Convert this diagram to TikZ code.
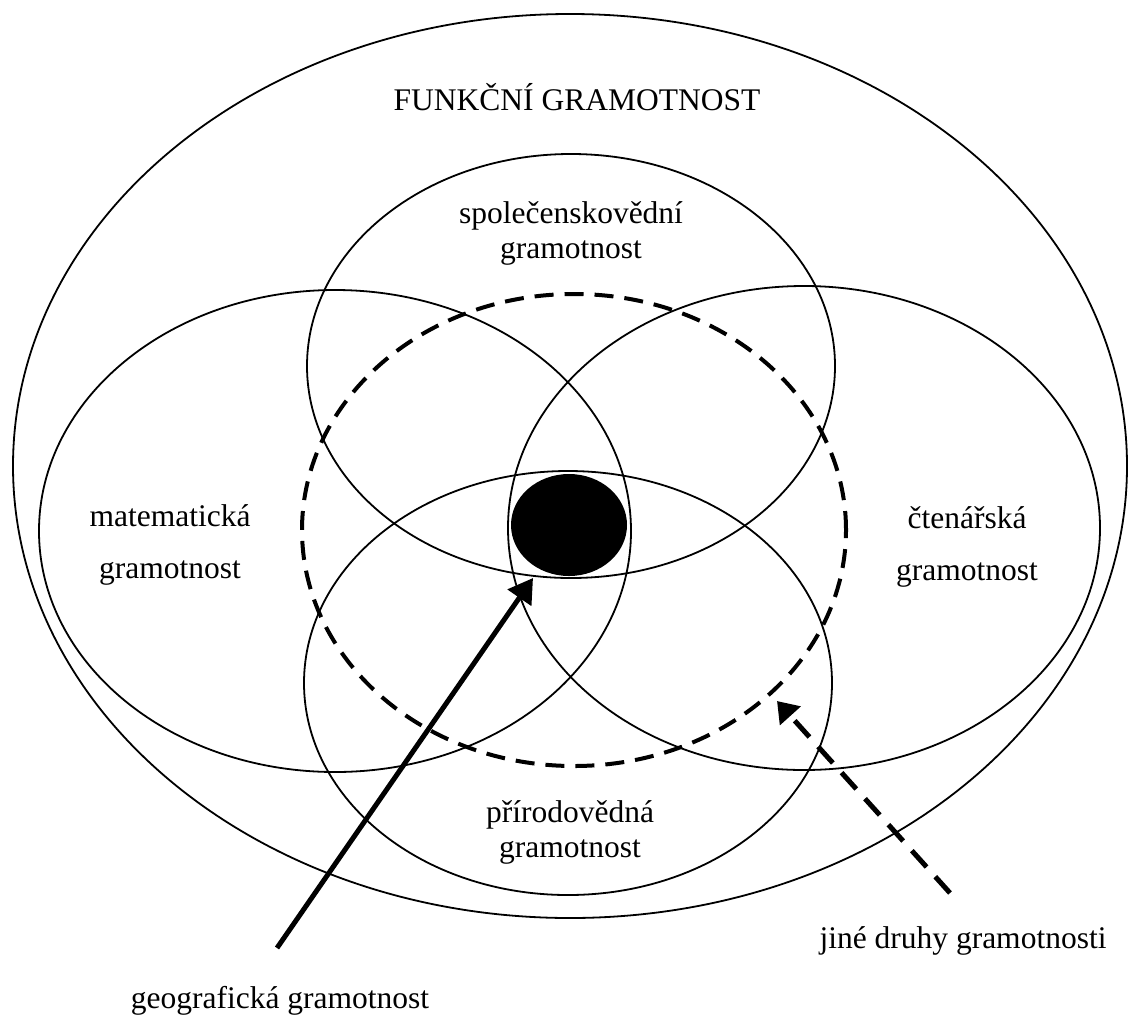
\documentclass[tikz,border=0pt]{standalone}
\usepackage{fontspec}
\setmainfont{Liberation Serif}
\usetikzlibrary{arrows.meta}

\tikzset{
  setline/.style={line width=1.8pt},
  otherline/.style={line width=4pt,dash pattern=on 19pt off 11pt},
  gtext/.style={font=\fontsize{31.5}{35}\selectfont,align=center,inner sep=0pt},
  widetext/.style={gtext,font=\fontsize{31.5}{52}\selectfont},
}

\begin{document}
\begin{tikzpicture}[x=1pt,y=-1pt,line join=round]
  \useasboundingbox (0,0) rectangle (1131,1015);
  % the sets
  \draw[setline] (570,466) ellipse [x radius=557pt,y radius=452pt];
  \draw[setline] (571,366) ellipse [x radius=264pt,y radius=212pt];
  \draw[setline] (335,531) ellipse [x radius=296pt,y radius=241pt];
  \draw[setline] (804,528) ellipse [x radius=296pt,y radius=242pt];
  \draw[setline] (568,683) ellipse [x radius=264pt,y radius=212pt];
  \draw[otherline] (574,530) ellipse [x radius=272pt,y radius=236pt];
  \fill (569,525) ellipse [x radius=58pt,y radius=51pt];
  % labels
  \node[gtext,anchor=base] (funkcni) at (577,110) {FUNKČNÍ GRAMOTNOST};
  \node[gtext] (spolec) at (571,233) {společenskovědní\\gramotnost};
  \node[widetext] (matem) at (170,545) {matematická\\gramotnost};
  \node[widetext] (cten) at (967,547) {čtenářská\\gramotnost};
  \node[gtext] (prirod) at (570,832) {přírodovědná\\gramotnost};
  \node[gtext,anchor=base] (jine) at (963,948) {jiné druhy gramotnosti};
  \node[gtext,anchor=base] (geogr) at (280,1008) {geografická gramotnost};
  % arrows
  \coordinate (geoStart) at (277,948);
  \coordinate (geoTip) at (533,578);
  \draw[line width=5pt,-{Triangle[length=24pt,width=28pt]}] (geoStart) -- (geoTip);
  \coordinate (jineStart) at (950,893);
  \coordinate (jineTip) at (777,701);
  \draw[line width=5pt,dash pattern=on 22pt off 13pt,-{Triangle[length=20pt,width=27pt]}] (jineStart) -- (jineTip);
\end{tikzpicture}
\end{document}
